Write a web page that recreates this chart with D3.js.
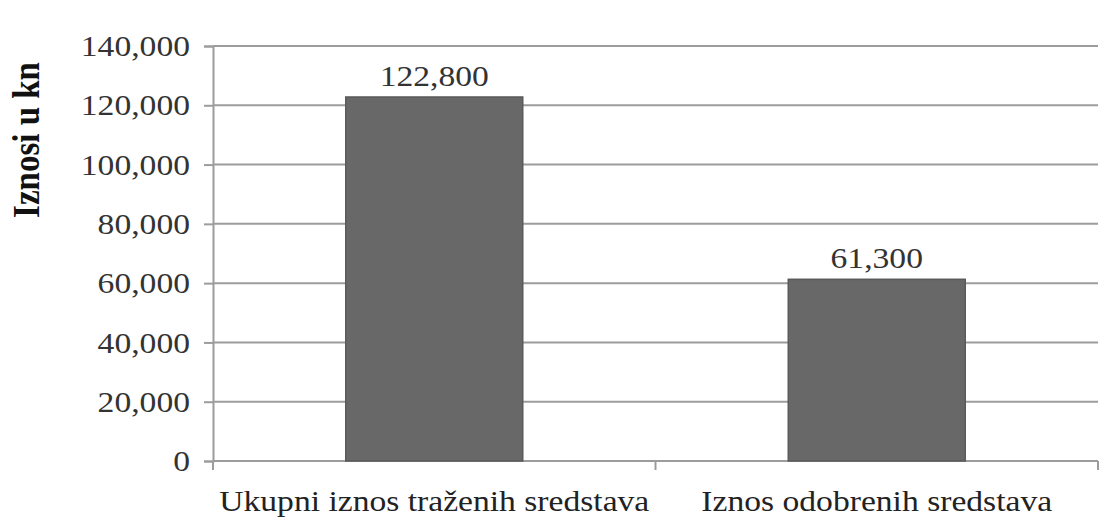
<!DOCTYPE html>
<html><head><meta charset="utf-8">
<script src="https://cdn.jsdelivr.net/npm/d3@7"></script>
<style>
body{margin:0;background:#fff;}
</style></head>
<body><svg id="c" width="1107" height="525"></svg>
<script>
const categories = ["Ukupni iznos traženih sredstava", "Iznos odobrenih sredstava"];
const values = [122800, 61300];
const valueLabels = ["122,800", "61,300"];
const yTicks = [0, 20000, 40000, 60000, 80000, 100000, 120000, 140000];
const yTitle = "Iznosi u kn";

const FONT = "'Liberation Serif', 'DejaVu Serif', serif";
const SX = 1.12; // horizontal text stretch seen in the reference
const svg = d3.select("#c");
const m = {l:213, r:9, t:46, b:64};
const W = 1107, H = 525;
const x = d3.scaleBand().domain(categories).range([m.l, W - m.r]).paddingInner(0.6).paddingOuter(0.3);
const y = d3.scaleLinear().domain([0, 140000]).range([H - m.b, m.t]);
const fmt = d3.format(",");

// gridlines
svg.append("g").selectAll("line").data(yTicks).join("line")
  .attr("x1", m.l).attr("x2", W - m.r)
  .attr("y1", d => y(d)).attr("y2", d => y(d))
  .attr("stroke", "#9c9c9c").attr("stroke-width", 2);

// y axis
const ya = svg.append("g").attr("transform", `translate(${m.l},0)`)
  .call(d3.axisLeft(y).tickValues(yTicks).tickFormat(fmt).tickSize(9).tickPadding(23));
ya.attr("font-family", null);
ya.select(".domain").attr("stroke", "#9c9c9c").attr("stroke-width", 2);
ya.selectAll(".tick line").attr("stroke", "#9c9c9c").attr("stroke-width", 2);
ya.selectAll("text")
  .attr("x", 0).attr("transform", `translate(-23,0) scale(${SX},1)`)
  .style("font-family", FONT).style("font-size", "30px").attr("fill", "#333");

// x axis
const xa = svg.append("g").attr("transform", `translate(0,${y(0)})`)
  .call(d3.axisBottom(x).tickSize(0).tickPadding(29));
xa.attr("font-family", null);
xa.select(".domain").remove();
xa.selectAll("text")
  .attr("transform", `scale(${SX},1)`)
  .style("font-family", FONT).style("font-size", "30px").attr("fill", "#222");
// category boundary ticks
const bounds = [m.l, m.l + (W - m.r - m.l) / 2, W - m.r];
svg.append("g").selectAll("line").data(bounds).join("line")
  .attr("x1", d => d).attr("x2", d => d)
  .attr("y1", y(0)).attr("y2", y(0) + 9)
  .attr("stroke", "#9c9c9c").attr("stroke-width", 2);

// bars
svg.append("g").selectAll("rect").data(values).join("rect")
  .attr("x", (d, i) => x(categories[i]))
  .attr("width", x.bandwidth())
  .attr("y", d => y(d))
  .attr("height", d => y(0) - y(d))
  .attr("fill", "#686868").attr("stroke", "#5a5a5a").attr("stroke-width", 1.5);

// value labels
svg.append("g").selectAll("text").data(values).join("text")
  .attr("transform", (d, i) => `translate(${x(categories[i]) + x.bandwidth() / 2},${y(d) - 11}) scale(${SX},1)`)
  .attr("text-anchor", "middle").style("font-family", FONT).style("font-size", "30px").attr("fill", "#333")
  .text((d, i) => valueLabels[i]);

// y title
svg.append("text")
  .attr("transform", `translate(39,${140}) scale(${SX},1) rotate(-90)`)
  .attr("text-anchor", "middle").style("font-family", FONT).style("font-size", "33px").style("font-weight", "bold").attr("fill", "#111")
  .text(yTitle);
</script></body></html>
